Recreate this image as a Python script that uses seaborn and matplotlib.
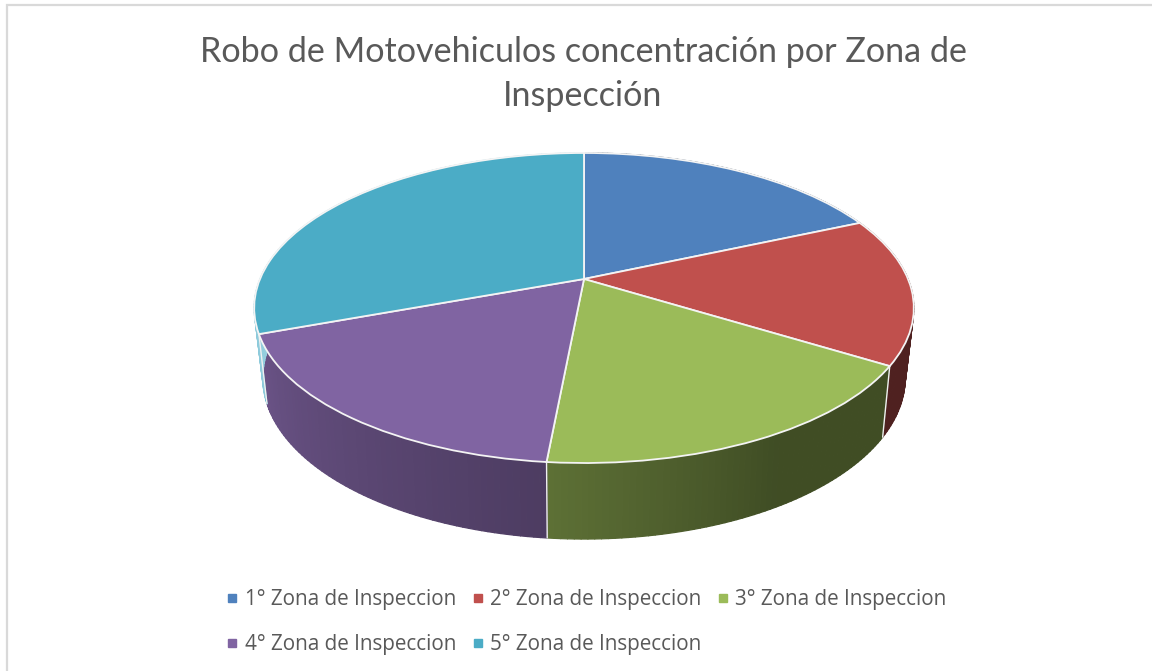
import numpy as np
import matplotlib
matplotlib.use("Agg")
import matplotlib.pyplot as plt
import seaborn as sns
from matplotlib.collections import PolyCollection
from matplotlib.lines import Line2D
from matplotlib.patches import Rectangle
from matplotlib.transforms import Transform

TITLE = "Robo de Motovehiculos concentración por Zona de\nInspección"
zones = ["1° Zona de Inspeccion", "2° Zona de Inspeccion", "3° Zona de Inspeccion",
         "4° Zona de Inspeccion", "5° Zona de Inspeccion"]
share = [18.4, 15.4, 17.7, 17.9, 30.6]
colors = ["#4f81bd", "#c0504d", "#9bbb59", "#8064a2", "#4bacc6"]

sns.set_theme(style="white")
plt.rcParams["font.family"] = ["Lato", "DejaVu Sans"]
palette = sns.color_palette(colors)


def project(xy, cx, cy, a, b, k):
    xy = np.asarray(xy, dtype=float).reshape(-1, 2)
    w = 1 + k * xy[:, 1]
    return np.column_stack([cx + a * xy[:, 0] / w, cy - b * xy[:, 1] / w])


TOP = dict(cx=584, cy=279, a=324, b=149.6, k=0.187)
BOTTOM = dict(cx=584, cy=346.5, a=315, b=155, k=0.195)


class TopPlate(Transform):
    input_dims = output_dims = 2
    is_separable = False
    has_inverse = False

    def transform_non_affine(self, values):
        return project(values, **TOP)


def shaded(color, s):
    c = np.array(color)
    return tuple(c * s if s <= 1 else c + (1 - c) * (s - 1))


fig = plt.figure(figsize=(11.52, 6.71), dpi=100, facecolor="white")
ax = fig.add_axes([0, 0, 1, 1])
wedges, _ = ax.pie(share, colors=palette, startangle=90, counterclock=False,
                   wedgeprops=dict(edgecolor="#f4f4f4", linewidth=1.3))
ax.set_aspect("auto")
ax.set_xlim(0, 1152)
ax.set_ylim(671, 0)
ax.axis("off")

plate = TopPlate() + ax.transData
for w in wedges:
    w.set_transform(plate)
    w.set_clip_on(False)
    w.set_zorder(5)

# side wall, cut from the same cumulative shares
edges = np.cumsum([0] + share) / sum(share) * 360
anchors = [100, 150, 185, 250, 252, 290]
shades = [0.41, 0.41, 0.60, 0.83, 1.35, 1.5]
polys, fills = [], []
for i in range(len(share)):
    th = np.linspace(edges[i], edges[i + 1], int(edges[i + 1] - edges[i]) + 2)
    ring = np.column_stack([np.sin(np.radians(th)), np.cos(np.radians(th))])
    up, lo = project(ring, **TOP), project(ring, **BOTTOM)
    for j in range(len(th) - 1):
        polys.append([up[j], up[j + 1], lo[j + 1], lo[j]])
        fills.append(shaded(palette[i], np.interp((th[j] + th[j + 1]) / 2, anchors, shades)))
ax.add_collection(PolyCollection(polys, facecolors=fills, edgecolors=fills,
                                 linewidths=0.9, zorder=2))
for e in edges[1:-1]:
    if 100 < e < 250:
        p = np.array([[np.sin(np.radians(e)), np.cos(np.radians(e))]])
        up, lo = project(p, **TOP)[0], project(p, **BOTTOM)[0]
        ax.plot([up[0], lo[0]], [up[1], lo[1]], color="#f0f0f0", lw=1.0, zorder=3)

ax.text(583, 74, TITLE, ha="center", va="center", fontsize=24.6, color="#595959",
        linespacing=1.43)

handles = [Line2D([], [], ls="none", marker="s", ms=6, color=c) for c in palette]
order = [0, 3, 1, 4, 2]
ax.legend([handles[i] for i in order], [zones[i] for i in order], ncol=3,
          loc="center left", bbox_to_anchor=(226, 622),
          bbox_transform=ax.transData, frameon=False,
          labelcolor="#595959", handlelength=0.6, handletextpad=0.3,
          columnspacing=0.75, labelspacing=1.15, borderpad=0, borderaxespad=0,
          prop=dict(family="Open Sans", size=14.85))

fig.add_artist(Rectangle((7 / 1152, -0.1), 1.2, 1.1 - 5.5 / 671,
                         transform=fig.transFigure, fill=False,
                         edgecolor="#d9d9d9", linewidth=1.6))

fig.savefig("out.png", dpi=100)
